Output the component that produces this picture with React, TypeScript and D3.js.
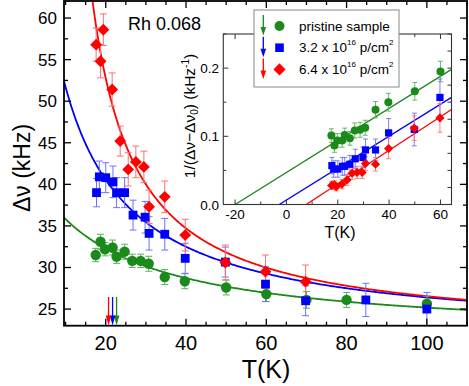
import React from "react";
import * as d3 from "d3";

// ---------- data ----------
const greenT = [17.5, 18.7, 19.8, 21.7, 22.7, 24.7, 26.6, 28.7, 30.7, 34.7, 39.7, 50, 60, 70, 80, 100];
const greenV = [31.5, 33.1, 32.2, 32.4, 31.3, 31.9, 30.8, 30.8, 30.45, 28.85, 28.35, 27.6, 26.8, 26.1, 26.1, 25.65];
const greenErr = [0.8, 0.9, 0.8, 0.9, 0.8, 0.9, 0.8, 0.8, 0.9, 0.9, 0.9, 0.9, 0.9, 1.0, 0.9, 0.9];

const blueT = [17.7, 18.4, 20, 21.8, 22.7, 24.7, 26.8, 29.8, 30.8, 34.7, 39.8, 49.8, 59.8, 69.8, 84.8, 100];
const blueV = [39.0, 40.9, 40.8, 40.3, 39.0, 39.0, 36.3, 36.05, 34.1, 34.0, 31.1, 30.65, 28.0, 26.0, 26.1, 25.0];
const blueErr = [1.7, 1.9, 1.8, 1.9, 1.8, 1.8, 1.8, 1.9, 2.0, 1.9, 1.8, 1.8, 2.1, 1.8, 2.0, 2.0];

const redT = [17.6, 18.7, 19.4, 21.6, 23.6, 25.6, 27.5, 29.5, 30.8, 34.7, 39.8, 49.8, 59.8, 69.8];
const redV = [56.8, 54.8, 58.6, 51.4, 45.2, 41.8, 42.7, 42.1, 37.3, 38.5, 33.9, 30.6, 29.5, 28.3];
const redErr = [2.0, 2.0, 1.9, 2.0, 1.8, 2.0, 1.9, 1.9, 2.0, 1.9, 1.9, 2.1, 2.0, 2.0];

// inset: 1/(Δν-Δν0) for T up to 60 K
const greenInv = [0.101, 0.0865, 0.094, 0.094, 0.102, 0.097, 0.1085, 0.1095, 0.1125, 0.139, 0.15, 0.166, 0.195];
const greenInvErr = [0.01, 0.01, 0.01, 0.01, 0.01, 0.01, 0.011, 0.011, 0.011, 0.012, 0.013, 0.013, 0.015];
const blueInv = [0.057, 0.052, 0.052, 0.056, 0.056, 0.059, 0.067, 0.069, 0.08, 0.08, 0.105, 0.11, 0.157];
const blueInvErr = [0.012, 0.012, 0.012, 0.013, 0.013, 0.013, 0.014, 0.015, 0.016, 0.016, 0.021, 0.024, 0.027];
const redInv = [0.028, 0.029, 0.026, 0.03, 0.036, 0.046, 0.047, 0.047, 0.06, 0.059, 0.082, 0.112, 0.127];
const redInvErr = [0.006, 0.006, 0.006, 0.007, 0.008, 0.009, 0.009, 0.009, 0.01, 0.01, 0.015, 0.018, 0.021];

// fit parameters: Δν = v0 + C/(T - T0)
const fitV0 = [21.63, 21.63, 21.9];
const fitC = [425.5, 510.9, 438];
const fitT0 = [-20, -7, 5.8];
// inset lines: y = slope*(T - T0)
const lineSlope = [0.00235, 0.00234, 0.00246];
const lineT0 = [-20, -2.8, 7.7];

// arrows (onset temperatures)
const arrowT = [22.7, 21.7, 20.7];

const seriesNames = ["pristine sample", "3.2 x 10", "6.4 x 10"];
const colors = ["#1a8a1a", "#0000ff", "#ff0000"];
const errColors = ["#5fae5f", "#6f6fff", "#ff6f6f"];

const mainXTicks = [20, 40, 60, 80, 100];
const mainYTicks = [25, 30, 35, 40, 45, 50, 55, 60];
const insetXTicks = [-20, 0, 20, 40, 60];
const insetYTicks = [0, 0.1, 0.2];

// ---------- layout ----------
const W = 469, H = 386;
const x = d3.scaleLinear().domain([9.6, 110]).range([64, 467]);
const y = d3.scaleLinear().domain([23, 62.05]).range([325.7, 1]);
const xi = d3.scaleLinear().domain([-24.6, 64.3]).range([223.3, 451.5]);
const yi = d3.scaleLinear().domain([0, 0.25]).range([204.5, 34]);

function Marker({ kind, cx, cy, s, color }: any) {
  if (kind === 0) return <circle cx={cx} cy={cy} r={s} fill={color} />;
  if (kind === 1) return <rect x={cx - s} y={cy - s} width={2 * s} height={2 * s} fill={color} />;
  const d = s * 1.35;
  return <path d={`M${cx},${cy - d}L${cx + d},${cy}L${cx},${cy + d}L${cx - d},${cy}Z`} fill={color} />;
}

function ErrBar({ cx, y1, y2, cap, color, w }: any) {
  return (
    <g stroke={color} strokeWidth={w} fill="none">
      <line x1={cx} x2={cx} y1={y1} y2={y2} />
      <line x1={cx - cap} x2={cx + cap} y1={y1} y2={y1} />
      <line x1={cx - cap} x2={cx + cap} y1={y2} y2={y2} />
    </g>
  );
}

export default function App() {
  const mainSeries = [
    { T: greenT, V: greenV, E: greenErr },
    { T: blueT, V: blueV, E: blueErr },
    { T: redT, V: redV, E: redErr },
  ];
  const insetSeries = [
    { V: greenInv, E: greenInvErr },
    { V: blueInv, E: blueInvErr },
    { V: redInv, E: redInvErr },
  ];
  const mainSizes = [5.2, 4.4, 4.4];
  const insetSizes = [4, 3.6, 3.4];

  const fitPath = (i: number) => {
    const pts: [number, number][] = [];
    const tStart = Math.max(9.6, fitT0[i] + fitC[i] / (62.05 - fitV0[i]));
    for (let k = 0; k <= 300; k++) {
      const t = tStart + ((110 - tStart) * k) / 300;
      pts.push([x(t), y(fitV0[i] + fitC[i] / (t - fitT0[i]))]);
    }
    return d3.line()(pts) as string;
  };

  const xMinor = d3.range(10, 111, 5);
  const yMinor = d3.range(25, 62.1, 2.5);
  const iXMinor = d3.range(-20, 61, 10);
  const iYMinorL = d3.range(0, 0.251, 0.05);
  const iYMinorR = d3.range(0, 0.251, 0.025);

  const font = "'Liberation Sans', Arial, Helvetica, sans-serif";

  return (
    <svg width={W} height={H} style={{ position: "absolute", left: 0, top: 0, background: "#fff" }} fontFamily={font}>
      <defs>
        <clipPath id="mainclip">
          <rect x={64} y={1} width={403} height={324.7} />
        </clipPath>
        <clipPath id="insetclip">
          <rect x={223.3} y={34} width={228.2} height={170.5} />
        </clipPath>
      </defs>

      {/* main fit curves */}
      <g clipPath="url(#mainclip)">
        {[0, 1, 2].map((i) => (
          <path key={i} d={fitPath(i)} stroke={colors[i]} strokeWidth={1.8} fill="none" />
        ))}
      </g>

      {/* main error bars and markers */}
      {mainSeries.map((s, i) => (
        <g key={"e" + i}>
          {s.T.map((t, k) => (
            <ErrBar key={k} cx={x(t)} y1={y(s.V[k] + s.E[k])} y2={y(s.V[k] - s.E[k])} cap={3.5} color={errColors[i]} w={1} />
          ))}
        </g>
      ))}
      {mainSeries.map((s, i) => (
        <g key={"m" + i}>
          {s.T.map((t, k) => (
            <Marker key={k} kind={i} cx={x(t)} cy={y(s.V[k])} s={mainSizes[i]} color={colors[i]} />
          ))}
        </g>
      ))}

      {/* onset arrows */}
      {arrowT.map((t, i) => (
        <g key={"a" + i} stroke={colors[i]} fill={colors[i]}>
          <line x1={x(t)} x2={x(t)} y1={297} y2={318} strokeWidth={1.3} />
          <path d={`M${x(t) - 2.8},${315.5}L${x(t) + 2.8},${315.5}L${x(t)},${325.5}Z`} stroke="none" />
        </g>
      ))}

      {/* main frame */}
      <rect x={64} y={1} width={403} height={324.7} fill="none" stroke="#000" strokeWidth={1.8} />
      {xMinor.map((t) => {
        const major = t % 20 === 0;
        const len = major ? 7 : 4;
        return (
          <g key={"xt" + t} stroke="#000" strokeWidth={1.3}>
            <line x1={x(t)} x2={x(t)} y1={325.7} y2={325.7 - len} />
            <line x1={x(t)} x2={x(t)} y1={1} y2={1 + len} />
          </g>
        );
      })}
      {yMinor.map((v) => {
        const major = v % 5 === 0;
        const len = major ? 7 : 4;
        return (
          <g key={"yt" + v} stroke="#000" strokeWidth={1.3}>
            <line x1={64} x2={64 + len} y1={y(v)} y2={y(v)} />
            <line x1={467} x2={467 - len} y1={y(v)} y2={y(v)} />
          </g>
        );
      })}
      {mainXTicks.map((t) => (
        <text key={"xl" + t} x={x(t)} y={350} fontSize={20} textAnchor="middle">{t}</text>
      ))}
      {mainYTicks.map((v) => (
        <text key={"yl" + v} x={57} y={y(v) + 6} fontSize={17} textAnchor="end">{v}</text>
      ))}
      <text x={266} y={378} fontSize={25} textAnchor="middle">T(K)</text>
      <text transform="translate(30,168) rotate(-90)" fontSize={23} textAnchor="middle">Δν (kHz)</text>
      <text x={128} y={30} fontSize={18}>Rh 0.068</text>

      {/* ---------- inset ---------- */}
      <rect x={223.3} y={34} width={228.2} height={170.5} fill="#fff" stroke="none" />
      <g clipPath="url(#insetclip)">
        {[0, 1, 2].map((i) => (
          <line key={i} x1={xi(lineT0[i])} y1={yi(0)} x2={xi(64.3)} y2={yi(lineSlope[i] * (64.3 - lineT0[i]))} stroke={colors[i]} strokeWidth={1.3} />
        ))}
      </g>
      {insetSeries.map((s, i) => (
        <g key={"ie" + i}>
          {s.V.map((v, k) => (
            <ErrBar key={k} cx={xi(mainSeries[i].T[k])} y1={yi(v + s.E[k])} y2={yi(v - s.E[k])} cap={2.5} color={errColors[i]} w={0.9} />
          ))}
        </g>
      ))}
      {insetSeries.map((s, i) => (
        <g key={"im" + i}>
          {s.V.map((v, k) => (
            <Marker key={k} kind={i} cx={xi(mainSeries[i].T[k])} cy={yi(v)} s={insetSizes[i]} color={colors[i]} />
          ))}
        </g>
      ))}
      <rect x={223.3} y={34} width={228.2} height={170.5} fill="none" stroke="#333" strokeWidth={1.1} />
      {iXMinor.map((t) => {
        const len = t % 20 === 0 ? 5 : 3;
        return (
          <g key={"ixt" + t} stroke="#333" strokeWidth={1}>
            <line x1={xi(t)} x2={xi(t)} y1={204.5} y2={204.5 - len} />
            <line x1={xi(t)} x2={xi(t)} y1={34} y2={34 + len} />
          </g>
        );
      })}
      {iYMinorL.map((v) => (
        <line key={"iyl" + v} x1={223.3} x2={223.3 + (Math.abs((v * 10) % 1) < 1e-6 ? 5 : 3)} y1={yi(v)} y2={yi(v)} stroke="#333" strokeWidth={1} />
      ))}
      {iYMinorR.map((v) => (
        <line key={"iyr" + v} x1={451.5} x2={451.5 - 4} y1={yi(v)} y2={yi(v)} stroke="#333" strokeWidth={1} />
      ))}
      {insetXTicks.map((t) => (
        <text key={"ixl" + t} x={xi(t)} y={219} fontSize={13.5} textAnchor="middle">{t}</text>
      ))}
      {insetYTicks.map((v) => (
        <text key={"iyl2" + v} x={219} y={yi(v) + 5} fontSize={13.5} textAnchor="end">{v.toFixed(1)}</text>
      ))}
      <text x={340} y={238} fontSize={16} textAnchor="middle">T(K)</text>
      <text transform="translate(195,116) rotate(-90)" fontSize={15.5} textAnchor="middle">
        1/(Δν−Δν<tspan fontSize={10} dy={3}>0</tspan><tspan dy={-3}>) (kHz</tspan>
        <tspan fontSize={10} dy={-6}>-1</tspan><tspan dy={6}>)</tspan>
      </text>

      {/* legend */}
      <rect x={254} y={10} width={145} height={77} fill="#fff" stroke="#888" strokeWidth={1} />
      {[0, 1, 2].map((i) => {
        const cy = 26 + i * 21.7;
        return (
          <g key={"lg" + i}>
            <line x1={263.3} x2={263.3} y1={cy - 11} y2={cy + 3} stroke={colors[i]} strokeWidth={1.3} />
            <path d={`M${260.5},${cy + 1}L${266.1},${cy + 1}L${263.3},${cy + 9.5}Z`} fill={colors[i]} />
            <Marker kind={i} cx={279.5} cy={cy} s={i === 0 ? 5 : i === 1 ? 4.3 : 4.5} color={colors[i]} />
            {i === 0 ? (
              <text x={299} y={cy + 4.5} fontSize={13.5}>{seriesNames[i]}</text>
            ) : (
              <text x={299} y={cy + 4.5} fontSize={13.5}>
                {seriesNames[i]}
                <tspan fontSize={8} dy={-7}>16</tspan>
                <tspan dy={7}> p/cm</tspan>
                <tspan fontSize={8} dy={-7}>2</tspan>
              </text>
            )}
          </g>
        );
      })}
    </svg>
  );
}
